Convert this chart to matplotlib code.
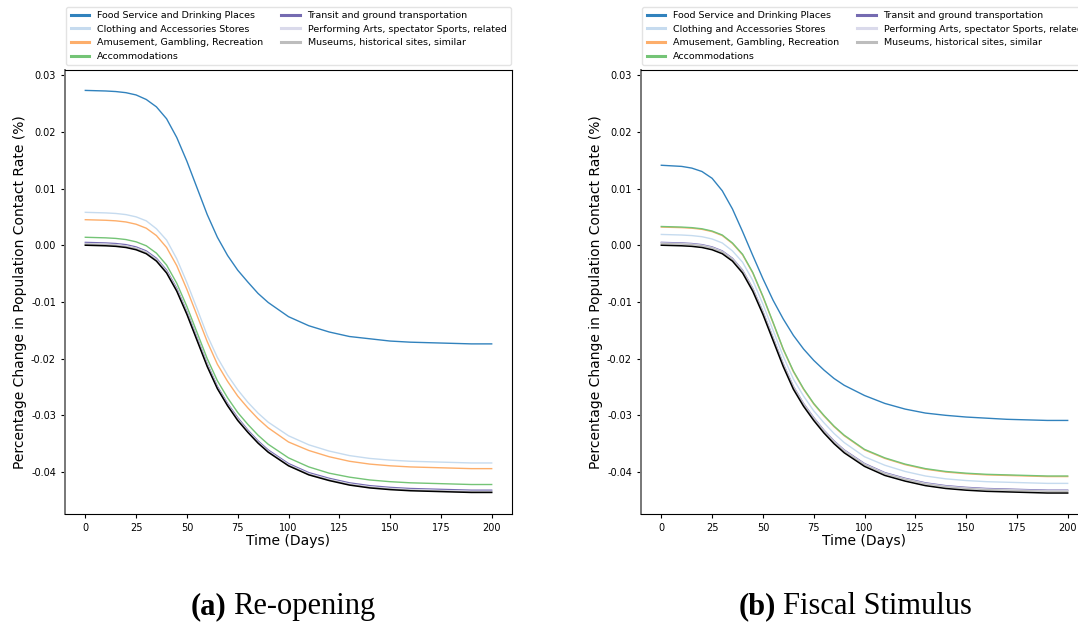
import numpy as np
import matplotlib
matplotlib.use("Agg")
import matplotlib.pyplot as plt

# time grid (days) the values below were read at
days = [0, 10, 15, 20, 25, 30, 35, 40, 45, 50, 55, 60, 65, 70, 75, 80, 85, 90, 100,
        110, 120, 130, 140, 150, 160, 170, 180, 190, 200]

sectors = ["Food Service and Drinking Places", "Clothing and Accessories Stores",
           "Amusement, Gambling, Recreation", "Accommodations",
           "Transit and ground transportation", "Performing Arts, spectator Sports, related",
           "Museums, historical sites, similar"]

# (a) Re-opening
reopen_food = [.0273, .0272, .0271, .0269, .0265, .0257, .0244, .0223, .0190, .0148, .0101, .0054,
               .0014, -.0018, -.0044, -.0065, -.0085, -.0101, -.0126, -.0142, -.0153, -.0161,
               -.0165, -.0169, -.0171, -.0172, -.0173, -.0174, -.0174]
reopen_clothing = [.0058, .0057, .0056, .0054, .0050, .0043, .0029, .0009, -.0024, -.0066, -.0112,
                   -.0159, -.0198, -.0229, -.0255, -.0277, -.0296, -.0312, -.0336, -.0352, -.0363,
                   -.0371, -.0376, -.0379, -.0381, -.0382, -.0383, -.0384, -.0384]
reopen_amusement = [.0045, .0044, .0043, .0041, .0037, .0030, .0017, -.0004, -.0036, -.0078, -.0124,
                    -.0170, -.0210, -.0240, -.0266, -.0287, -.0306, -.0322, -.0347, -.0362, -.0373,
                    -.0381, -.0386, -.0389, -.0391, -.0392, -.0393, -.0394, -.0394]
reopen_accom = [.0014, .0013, .0012, .0010, .0006, -.0001, -.0014, -.0035, -.0067, -.0108, -.0154,
                -.0200, -.0239, -.0269, -.0295, -.0316, -.0335, -.0351, -.0375, -.0391, -.0402,
                -.0409, -.0414, -.0417, -.0419, -.0420, -.0421, -.0422, -.0422]
reopen_transit = [.0005, .0004, .0003, .0001, -.0003, -.0010, -.0023, -.0044, -.0076, -.0117, -.0163,
                  -.0209, -.0249, -.0279, -.0304, -.0326, -.0345, -.0361, -.0385, -.0401, -.0411,
                  -.0419, -.0424, -.0427, -.0429, -.0430, -.0431, -.0432, -.0432]
reopen_perform = [.0003, .0002, .0001, -.0001, -.0005, -.0012, -.0025, -.0046, -.0078, -.0119, -.0165,
                  -.0211, -.0251, -.0281, -.0306, -.0328, -.0347, -.0363, -.0387, -.0403, -.0413,
                  -.0421, -.0426, -.0429, -.0431, -.0432, -.0433, -.0434, -.0434]
reopen_museum = [.0002, .0001, .0000, -.0002, -.0006, -.0013, -.0026, -.0047, -.0079, -.0120, -.0166,
                 -.0212, -.0252, -.0282, -.0307, -.0329, -.0348, -.0364, -.0388, -.0404, -.0414,
                 -.0422, -.0427, -.0430, -.0432, -.0433, -.0434, -.0435, -.0435]
reopen_base = [0, -.0001, -.0002, -.0004, -.0008, -.0015, -.0028, -.0049, -.0081, -.0122, -.0168,
               -.0214, -.0253, -.0283, -.0309, -.0330, -.0349, -.0365, -.0389, -.0405, -.0415,
               -.0423, -.0428, -.0431, -.0433, -.0434, -.0435, -.0436, -.0436]

# (b) Fiscal Stimulus
fiscal_food = [.0141, .0139, .0136, .0130, .0118, .0096, .0064, .0024, -.0018, -.0059, -.0097,
               -.0130, -.0159, -.0183, -.0203, -.0220, -.0235, -.0247, -.0265, -.0279, -.0289,
               -.0296, -.0300, -.0303, -.0305, -.0307, -.0308, -.0309, -.0309]
fiscal_clothing = [.0019, .0018, .0017, .0015, .0011, .0004, -.0010, -.0030, -.0062, -.0104, -.0150,
                   -.0196, -.0236, -.0266, -.0292, -.0313, -.0332, -.0348, -.0373, -.0388, -.0399,
                   -.0407, -.0412, -.0415, -.0417, -.0418, -.0419, -.0420, -.0420]
fiscal_amusement = [.0032, .0031, .0030, .0028, .0024, .0017, .0003, -.0017, -.0049, -.0091, -.0137,
                    -.0184, -.0223, -.0254, -.0280, -.0301, -.0320, -.0336, -.0361, -.0376, -.0387,
                    -.0395, -.0400, -.0403, -.0405, -.0406, -.0407, -.0408, -.0408]
fiscal_accom = [.0033, .0032, .0031, .0029, .0025, .0018, .0004, -.0016, -.0048, -.0090, -.0136,
                -.0183, -.0222, -.0253, -.0279, -.0300, -.0319, -.0335, -.0360, -.0375, -.0386,
                -.0394, -.0399, -.0402, -.0404, -.0405, -.0406, -.0407, -.0407]
fiscal_transit = [.0005, .0004, .0003, .0001, -.0003, -.0010, -.0023, -.0044, -.0076, -.0117, -.0163,
                  -.0209, -.0249, -.0279, -.0304, -.0326, -.0345, -.0361, -.0385, -.0401, -.0411,
                  -.0419, -.0424, -.0427, -.0429, -.0430, -.0431, -.0432, -.0432]
fiscal_perform = [.0004, .0003, .0002, .0000, -.0004, -.0011, -.0024, -.0045, -.0077, -.0118, -.0164,
                  -.0210, -.0250, -.0280, -.0305, -.0327, -.0346, -.0362, -.0386, -.0402, -.0412,
                  -.0420, -.0425, -.0428, -.0430, -.0431, -.0432, -.0433, -.0433]
fiscal_museum = [.0003, .0002, .0001, -.0001, -.0005, -.0012, -.0025, -.0046, -.0078, -.0119, -.0165,
                 -.0211, -.0251, -.0281, -.0306, -.0328, -.0347, -.0363, -.0387, -.0403, -.0413,
                 -.0421, -.0426, -.0429, -.0431, -.0432, -.0433, -.0434, -.0434]
fiscal_base = [0, -.0001, -.0002, -.0004, -.0008, -.0015, -.0028, -.0049, -.0081, -.0122, -.0168,
               -.0214, -.0254, -.0284, -.0309, -.0331, -.0350, -.0366, -.0390, -.0406, -.0416,
               -.0424, -.0429, -.0432, -.0434, -.0435, -.0436, -.0437, -.0437]

colors = ["#3182bd", "#c6dbef", "#fdae6b", "#74c476", "#756bb1", "#dadaeb", "#bdbdbd"]

panels = [
    ([reopen_food, reopen_clothing, reopen_amusement, reopen_accom,
      reopen_transit, reopen_perform, reopen_museum], reopen_base, "Re-opening", "(a)"),
    ([fiscal_food, fiscal_clothing, fiscal_amusement, fiscal_accom,
      fiscal_transit, fiscal_perform, fiscal_museum], fiscal_base, "Fiscal Stimulus", "(b)"),
]

fig = plt.figure(figsize=(10.78, 6.27), dpi=100)
lefts = [65 / 1078, 641 / 1078]
# x position (px) where the bold tag ends / caption text begins
caption_x = [(226, 233), (776, 783)]

for (series, base, title, tag), left, (tx, cx) in zip(panels, lefts, caption_x):
    ax = fig.add_axes([left, 113 / 627, 447 / 1078, 444 / 627])
    for vals, name, c in zip(series, sectors, colors):
        ax.plot(days, vals, color=c, lw=1.0, label=name)
    ax.plot(days, base, color="black", lw=1.1, zorder=5)

    ax.set_xlim(-10, 210)
    ax.set_ylim(-0.0474, 0.0309)
    ax.set_xticks([0, 25, 50, 75, 100, 125, 150, 175, 200])
    ax.set_yticks([-0.04, -0.03, -0.02, -0.01, 0.0, 0.01, 0.02, 0.03])
    ax.yaxis.set_major_formatter(matplotlib.ticker.FormatStrFormatter("%.2f"))
    ax.tick_params(labelsize=7, length=3, width=0.8)
    ax.set_xlabel("Time (Days)", fontsize=10, labelpad=1)
    ax.set_ylabel("Percentage Change in Population Contact Rate (%)", fontsize=10, labelpad=3)
    ax.spines["left"].set_color("#777777")
    ax.spines["left"].set_linewidth(1.4)

    leg = ax.legend(ncol=2, loc="lower center", bbox_to_anchor=(0.5, 1.0),
                    fontsize=6.8, frameon=True, handlelength=2.0,
                    columnspacing=1.9, labelspacing=0.5, borderpad=0.45,
                    fancybox=True, edgecolor="#dddddd")
    for h in leg.get_lines():
        h.set_linewidth(2.2)

    fig.text(tx / 1078, 0.032, tag, fontsize=22, fontweight="bold",
             family="Liberation Serif", ha="right", va="center")
    fig.text(cx / 1078, 0.032, title, fontsize=22,
             family="Liberation Serif", ha="left", va="center")

fig.savefig("out.png", dpi=100)
